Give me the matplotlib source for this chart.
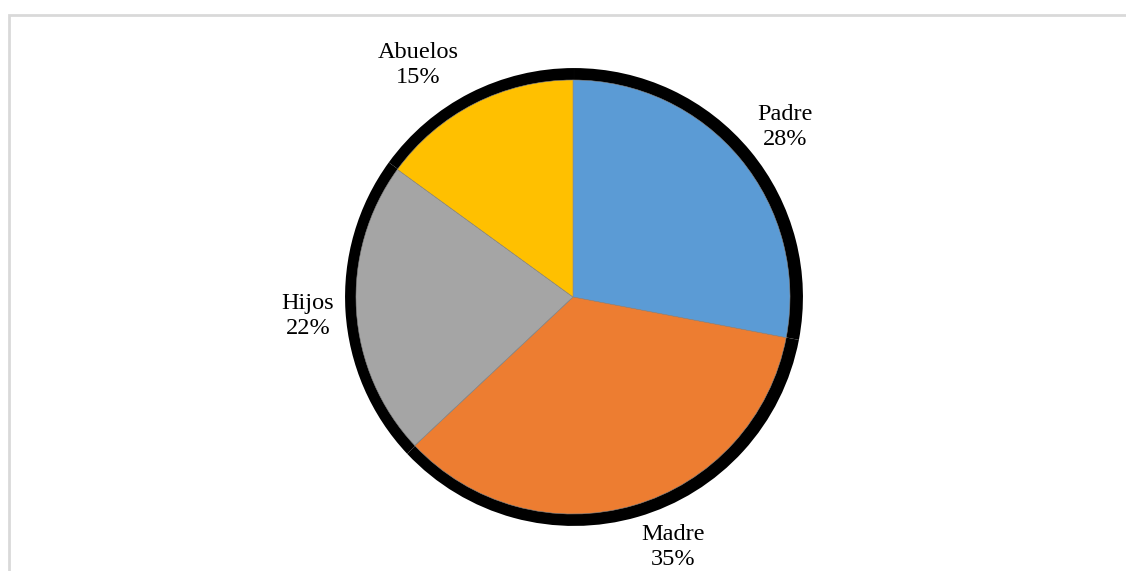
import matplotlib.pyplot as plt

# Distribución por miembro de la familia
categorias = ['Padre', 'Madre', 'Hijos', 'Abuelos']
porcentajes = [28, 35, 22, 15]
colores = ['#5B9BD5', '#ED7D31', '#A5A5A5', '#FFC000']

plt.rcParams['font.family'] = ['Liberation Serif', 'DejaVu Serif']

W, H = 1126, 571
fig = plt.figure(figsize=(W / 100, H / 100), dpi=100)
ax = fig.add_axes([0, 0, 1, 1])

centro = (573, 274)
radio = 217

# sombra negra detrás de cada porción
ax.pie(porcentajes, colors=['black'] * 4, startangle=90, counterclock=False,
       center=(centro[0] + 1, centro[1]), radius=radio * 1.055,
       explode=[0.015] * 4, wedgeprops={'linewidth': 0})

# pastel principal
ax.pie(porcentajes, colors=colores, startangle=90, counterclock=False,
       center=centro, radius=radio,
       wedgeprops={'linewidth': 0.4, 'edgecolor': '#8a8a8a'})

# etiquetas (nombre y porcentaje)
pos_etiquetas = [(785, 444), (673, 24), (308, 255), (418, 506)]
for cat, pct, (x, y) in zip(categorias, porcentajes, pos_etiquetas):
    ax.text(x, y, f'{cat}\n{pct}%', ha='center', va='center',
            fontsize=17.5, linespacing=1.22, color='#000000')

# borde del área del gráfico
ax.plot([8.5, 8.5, W], [0, H - 15, H - 15], color='#D9D9D9', lw=2,
        solid_joinstyle='miter')

ax.set_xlim(0, W)
ax.set_ylim(0, H)
ax.set_aspect('equal', adjustable='datalim')
ax.axis('off')

fig.savefig('out.png', dpi=100, facecolor='white')
